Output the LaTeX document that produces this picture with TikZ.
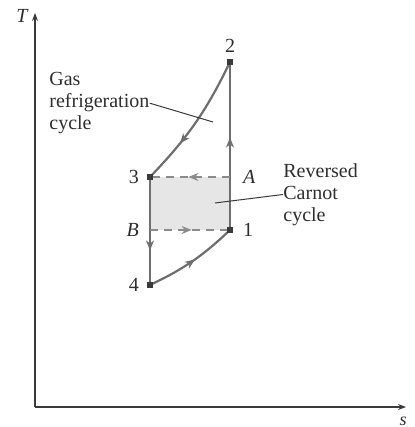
\documentclass[tikz,border=0pt]{standalone}
\usepackage{fontspec}
\setmainfont{Liberation Serif}
\usepackage{xcolor}
\usepackage{tikz}
\usetikzlibrary{arrows.meta,decorations.markings}
\definecolor{linegray}{HTML}{6E6E6E}
\definecolor{axisgray}{HTML}{3A3A3A}
\definecolor{shadegray}{HTML}{E6E6E6}
\definecolor{textgray}{HTML}{2E2E2E}

\tikzset{
  proc/.style={draw=linegray, line width=1.1pt},
  dashproc/.style={draw=linegray!80, dashed, dash pattern=on 4pt off 3pt, line width=0.6pt},
  midarrow/.style={postaction={decorate}, decoration={markings,
      mark=at position #1 with {\arrow{Stealth[length=5pt,width=4pt]}}}},
  statept/.style={fill=axisgray, inner sep=0pt, minimum size=2.6pt, rectangle},
  lbl/.style={text=textgray, font=\fontsize{10}{11}\selectfont},
  leader/.style={draw=axisgray, line width=0.5pt}
}

\begin{document}
\begin{tikzpicture}[x=0.5pt, y=0.5pt]
\useasboundingbox (0,0) rectangle (415,427);

% axes
\coordinate (o) at (35,20);
\coordinate (ytop) at (35,414);
\coordinate (xend) at (406,20);
\draw[axisgray, line width=0.6pt, -{Stealth[length=4pt,width=3pt]}] (o) -- (ytop);
\draw[axisgray, line width=0.6pt, -{Stealth[length=4pt,width=3pt]}] (o) -- (xend);
\node[lbl, font=\fontsize{10}{11}\itshape] (tlab) at (22,411) {T};
\node[lbl, font=\fontsize{9}{10}\itshape] (slab) at (403,6) {s};

% states
\coordinate (p2) at (230,365);
\coordinate (p3) at (150,250);
\coordinate (pA) at (230,250);
\coordinate (p1) at (230,197);
\coordinate (pB) at (150,197);
\coordinate (p4) at (150,142);

% reversed Carnot region
\fill[shadegray] (p3) rectangle (p1);

% gas refrigeration cycle
\draw[proc, midarrow=0.55] (p1) -- (p2);
\draw[proc, midarrow=0.68] (p2) to[bend left=9] (p3);
\draw[proc, midarrow=0.68] (p3) -- (p4);
\draw[proc, midarrow=0.53] (p4) to[bend right=9] (p1);

% Carnot isotherms
\draw[dashproc, midarrow=0.52] (pA) -- (p3);
\draw[dashproc, midarrow=0.52] (pB) -- (p1);

\foreach \p in {p1,p2,p3,p4}
  \node[statept] at (\p) {};

% state labels
\node[lbl, above=1pt] (l2) at (p2) {2};
\node[lbl, left=2pt] (l3) at (p3) {3};
\node[lbl, right=3pt, font=\fontsize{10}{11}\itshape] (lA) at (pA) {A};
\node[lbl, right=3pt] (l1) at (p1) {1};
\node[lbl, left=2pt, font=\fontsize{10}{11}\itshape] (lB) at (pB) {B};
\node[lbl, left=2pt] (l4) at (p4) {4};

% descriptions
\node[lbl, anchor=north west, align=left, inner sep=0pt] (gas) at (49,355)
  {Gas\\refrigeration\\cycle};
\coordinate (gasend) at (213,305);
\draw[leader] (gas.east) -- (gasend);

\node[lbl, anchor=north west, align=left, inner sep=0pt] (carnot) at (283,264)
  {Reversed\\Carnot\\cycle};
\coordinate (carnotend) at (215,224);
\draw[leader] (carnot.west) -- (carnotend);
\end{tikzpicture}
\end{document}
